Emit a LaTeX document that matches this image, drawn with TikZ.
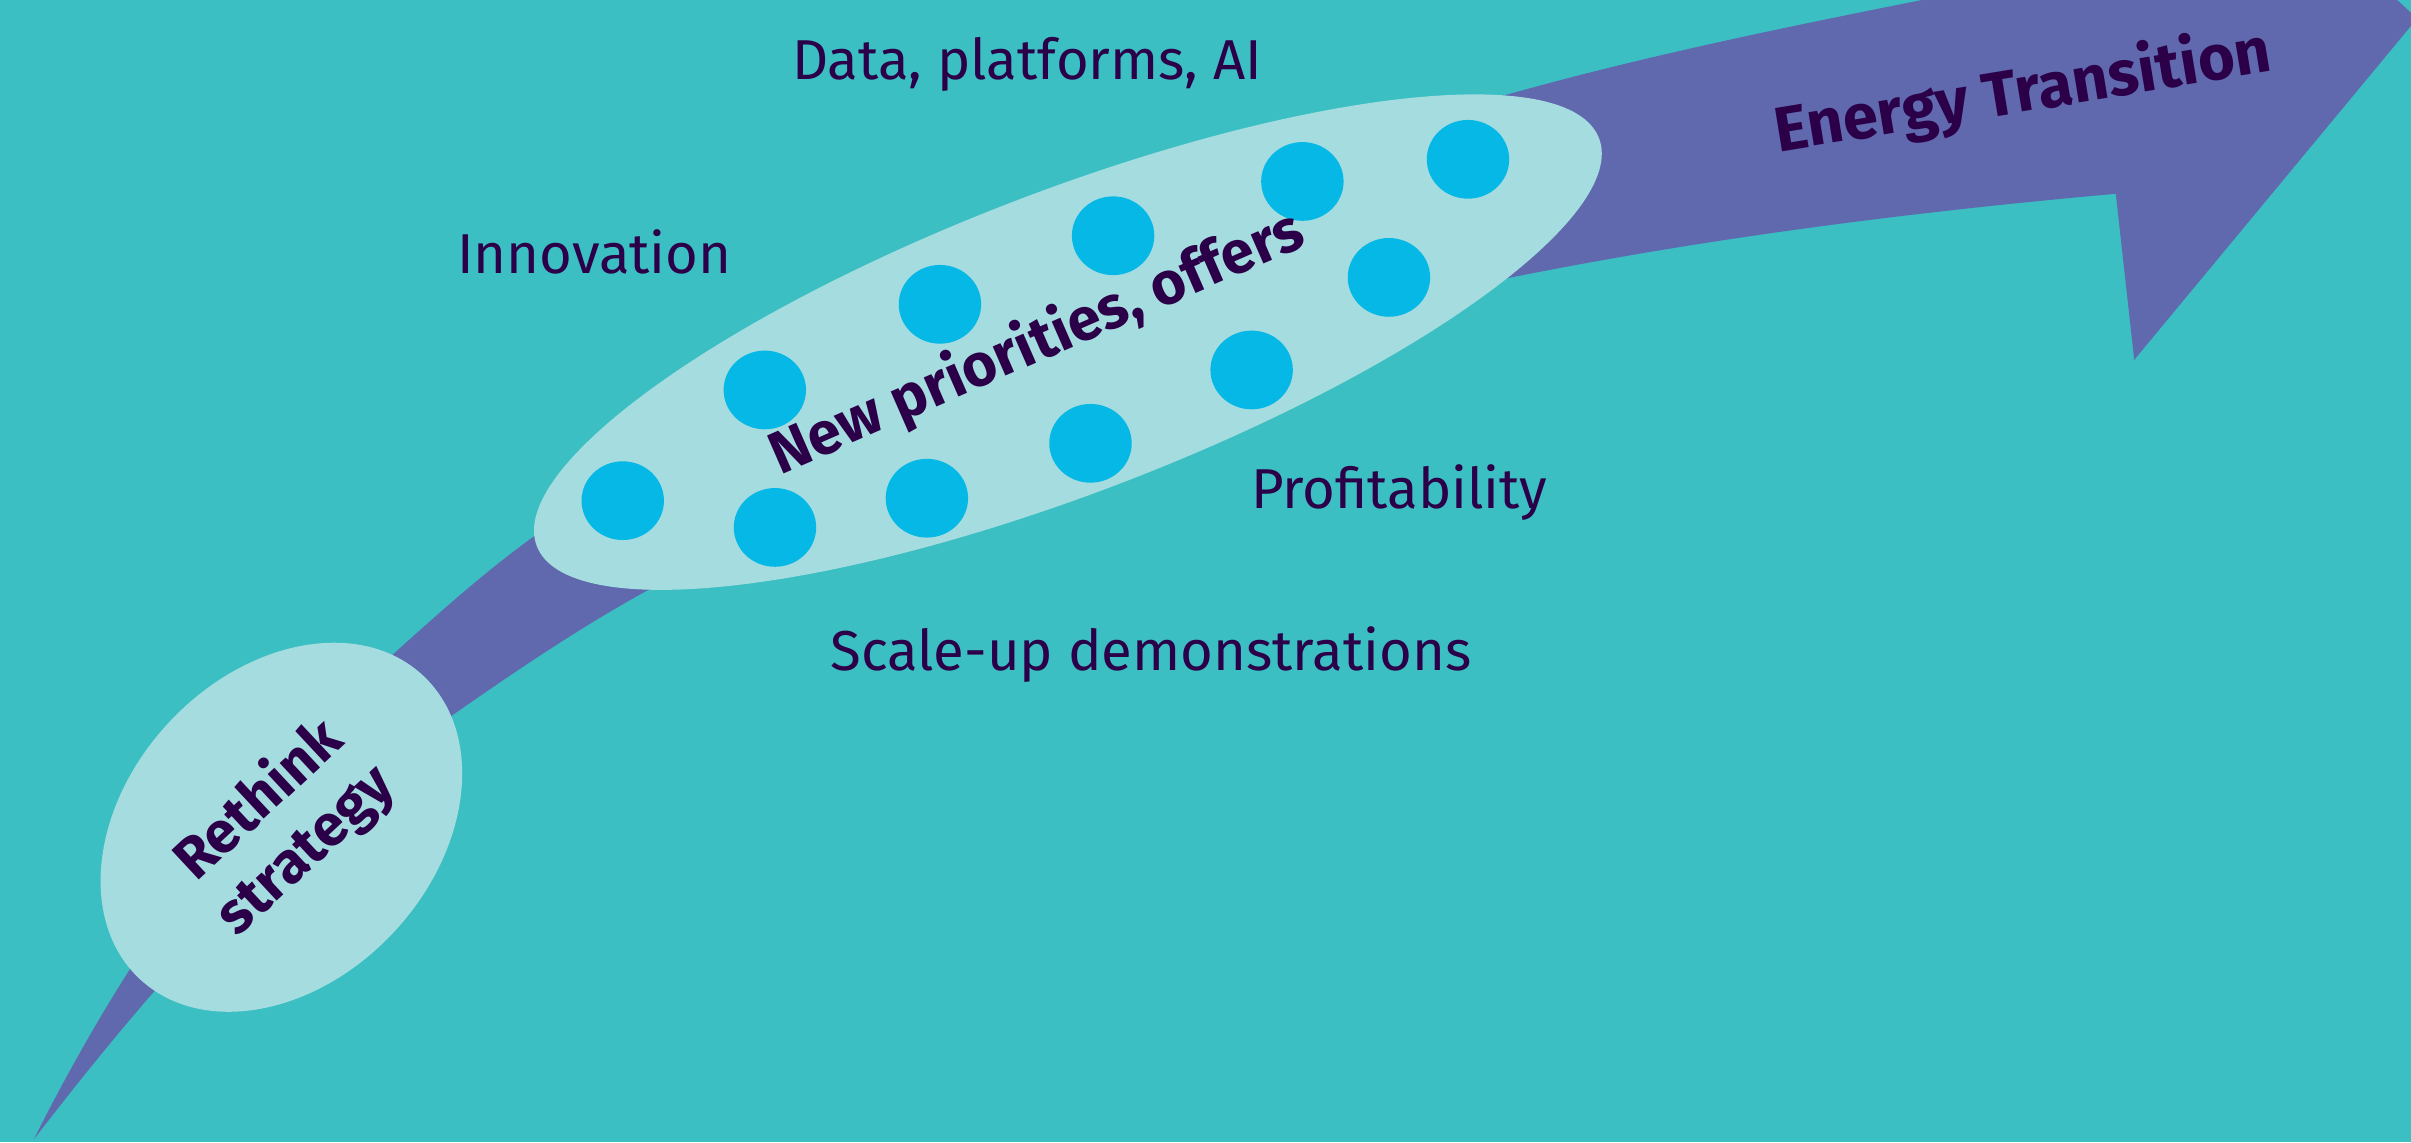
\documentclass[tikz,border=0pt]{standalone}
\usepackage{fontspec}
\setmainfont{Fira Sans}

\definecolor{sea}{HTML}{3BBFC3}
\definecolor{band}{HTML}{6068AE}
\definecolor{pale}{HTML}{A5DCDF}
\definecolor{dot}{HTML}{06B8E6}
\definecolor{ink}{HTML}{2B0048}

\begin{document}
\begin{tikzpicture}[x=0.015376cm, y=-0.015376cm,
  lbl/.style={ink, font=\fontsize{16}{19}\selectfont, anchor=base},
  boldlbl/.style={ink, font=\fontsize{18}{19.5}\selectfont\bfseries, align=center}]
\fill[sea] (0,0) rectangle (1568,743);
\useasboundingbox (0,0) rectangle (1568,743);
\clip (0,0) rectangle (1568,743);

% the big arrow
\fill[band] (22,741) .. controls (80,625) and (157,514) .. (254,427)
  .. controls (283.7,400.2) and (314.6,372.4) .. (347,349)
  .. controls (535,213.5) and (758.6,123.6) .. (982,61)
  .. controls (1086.7,31.7) and (1193.4,11.3) .. (1300,-10)
  -- (1440,-110) -- (1572,12) -- (1388,234) -- (1376,126)
  .. controls (1244.8,137.8) and (1114.2,154.2) .. (985,180)
  .. controls (788.8,219.2) and (596.2,287.6) .. (421,384)
  .. controls (376.6,408.4) and (334.5,437) .. (293,466)
  .. controls (187.6,539.7) and (100.5,639) .. (22,741) -- cycle;

% the two bubbles
\fill[pale, rotate around={47:(183,538)}] (183,538) ellipse [x radius=135, y radius=100];
\fill[pale, rotate around={21:(694.5,222.5)}] (694.5,222.5) ellipse [x radius=370, y radius=98];

% dots in the big bubble
\foreach \x/\y in {405/325.6, 504/343, 497.4/253.6, 602.8/324, 611.3/197.9, 709.2/288.3,
                   723.9/153.3, 814/240.6, 847/118, 903.3/180.4, 954.7/103.6}
  \fill[dot] (\x,\y) ellipse [x radius=26.8, y radius=25.6];

\node[lbl] (data) at (668,52) {Data, platforms, AI};
\node[lbl] (innov) at (386.5,178) {Innovation};
\node[lbl] (profit) at (910,330.5) {Profitability};
\node[lbl] (scale) at (748.5,436) {Scale-up demonstrations};

\node[boldlbl, font=\fontsize{16.5}{19.5}\selectfont\bfseries, rotate=43] (rethink) at (184,537) {Rethink\\strategy};
\node[boldlbl, font=\fontsize{17}{19.5}\selectfont\bfseries, rotate=23.6, anchor=base] (prio) at (679,234) {New priorities, offers};
\node[boldlbl, rotate=9.3, anchor=base] (energy) at (1317.5,72.6) {Energy Transition};
\end{tikzpicture}
\end{document}
